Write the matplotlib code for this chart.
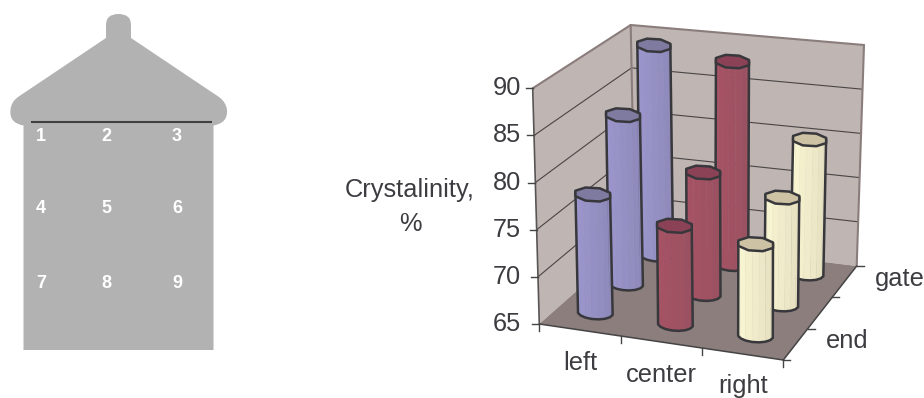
import numpy as np
import matplotlib
matplotlib.use("Agg")
import matplotlib.pyplot as plt
from matplotlib.patches import Polygon, PathPatch
from matplotlib.path import Path
from matplotlib.transforms import Transform

plt.rcParams["font.family"] = ["Liberation Sans", "DejaVu Sans"]

# Crystallinity by position on the plaque
columns = ["left", "center", "right"]
rows = ["end", "", "gate"]
left_values = [78.0, 84.0, 89.3]
center_values = [75.8, 78.7, 88.3]
right_values = [75.0, 77.0, 80.4]
value_ticks = [65, 70, 75, 80, 85, 90]
cell_numbers = [["1", "2", "3"], ["4", "5", "6"], ["7", "8", "9"]]

TEXT = "#3c3c41"
EDGE = "#37373c"
LABEL_SIZE = 18.3


class BoxProjection(Transform):
    """Map (column, row, value) through the eight corners of the chart box."""
    input_dims = 3
    output_dims = 2
    is_separable = False

    def __init__(self, floor, top, ncols, nrows, vmin, vmax):
        super().__init__()
        self.floor = np.array(floor, float)
        self.top = np.array(top, float)
        self.ncols, self.nrows = ncols, nrows
        self.vmin, self.vmax = vmin, vmax

    def transform_non_affine(self, pts):
        pts = np.asarray(pts, float).reshape(-1, 3)
        u = (pts[:, 0] / self.ncols)[:, None]
        v = (pts[:, 1] / self.nrows)[:, None]
        w = ((pts[:, 2] - self.vmin) / (self.vmax - self.vmin))[:, None]

        def quad(q):
            front = q[0] * (1 - u) + q[1] * u
            back = q[3] * (1 - u) + q[2] * u
            return front * (1 - v) + back * v
        return quad(self.floor) * (1 - w) + quad(self.top) * w


fig = plt.figure(figsize=(9.24, 3.98), dpi=100)
ax = fig.add_axes([0, 0, 1, 1])
ax.set_xlim(0, 924)
ax.set_ylim(398, 0)
ax.axis("off")

# Plaque outline with gate tab and rounded shoulders
GRAY = "#b2b2b2"
M, L, C, Z = Path.MOVETO, Path.LINETO, Path.CURVE3, Path.CLOSEPOLY
verts = [(23.5, 350), (23.5, 125.5), (23.5, 125.5), (9, 123), (10.5, 110), (11, 102), (18, 97),
         (106, 38), (106, 25), (106, 14), (118.5, 14), (131, 14), (131, 25), (131, 38),
         (219, 97), (226, 102), (227, 110), (228, 123), (213.5, 125.5), (213.5, 350), (23.5, 350)]
codes = [M, L, L, C, C, C, C, L, L, C, C, C, C, L, L, C, C, C, C, L, Z]
ax.add_patch(PathPatch(Path(verts, codes), fc=GRAY, ec="none"))
ax.plot([31, 212], [122, 122], color="#404040", lw=1.5, solid_capstyle="butt")
for labels, y in zip(cell_numbers, [136.5, 208.5, 283.5]):
    for label, x in zip(labels, [41, 106, 177]):
        ax.text(x, y, label, color="white", fontsize=13, fontweight="bold", ha="center", va="center")

# Chart box
vmin, vmax = value_ticks[0], value_ticks[-1]
ncols, nrows = len(columns), len(rows)
box = BoxProjection(floor=[(539.3, 324), (783.3, 360), (856.7, 266), (635, 239.3)],
                    top=[(532.7, 88.3), (784.0, 120), (864, 45), (630.7, 25)],
                    ncols=ncols, nrows=nrows, vmin=vmin, vmax=vmax)

WALL, FLOOR, RIM = "#bfb5b3", "#8b7e7c", "#8a7d7b"
ax.add_patch(Polygon(box.transform([(0, 0, vmin), (0, 0, vmax), (0, nrows, vmax), (0, nrows, vmin)]),
                     fc=WALL, ec="none", zorder=1))
ax.add_patch(Polygon(box.transform([(0, nrows, vmin), (0, nrows, vmax), (ncols, nrows, vmax), (ncols, nrows, vmin)]),
                     fc=WALL, ec="none", zorder=1))
ax.add_patch(Polygon(box.transform([(0, 0, vmin), (ncols, 0, vmin), (ncols, nrows, vmin), (0, nrows, vmin)]),
                     fc=FLOOR, ec="none", zorder=1))


def seg(a, b, **kw):
    p = box.transform([a, b])
    ax.plot(p[:, 0], p[:, 1], solid_capstyle="round", **kw)


for t in value_ticks[1:-1]:
    seg((0, 0, t), (0, nrows, t), color="#4a4545", lw=0.8, zorder=2)
    seg((0, nrows, t), (ncols, nrows, t), color="#4a4545", lw=0.8, zorder=2)
seg((0, 0, vmax), (0, nrows, vmax), color=RIM, lw=1.5, zorder=2)
seg((0, nrows, vmax), (ncols, nrows, vmax), color=RIM, lw=1.5, zorder=2)
seg((0, nrows, vmin), (0, nrows, vmax), color=RIM, lw=1.5, zorder=2)
seg((ncols, nrows, vmin), (ncols, nrows, vmax), color=RIM, lw=1.5, zorder=2)
seg((0, 0, vmin), (0, 0, vmax), color="#5a5555", lw=1.2, zorder=2)
seg((0, 0, vmin), (ncols, 0, vmin), color="#444", lw=1.1, zorder=2)
seg((ncols, 0, vmin), (ncols, nrows, vmin), color="#444", lw=1.1, zorder=2)

# Tick marks and tick labels
for t in value_ticks:
    x, y = box.transform([(0, 0, t)])[0]
    ax.plot([x - 7, x], [y, y], color="#444", lw=1, zorder=2)
    ax.text(521, y, str(t), color=TEXT, fontsize=LABEL_SIZE, ha="right", va="center")
for i in range(ncols + 1):
    x, y = box.transform([(i, 0, vmin)])[0]
    ax.plot([x, x], [y, y + 7], color="#444", lw=1, zorder=2)
for j in range(nrows + 1):
    x, y = box.transform([(ncols, j, vmin)])[0]
    ax.plot([x, x + 7], [y, y], color="#444", lw=1, zorder=2)
for i, name in enumerate(columns):
    x, y = box.transform([(i + 0.5, 0, vmin)])[0]
    ax.text(x, y + 32.5, name, color=TEXT, fontsize=LABEL_SIZE, ha="center", va="center")
for j, name in enumerate(rows):
    x, y = box.transform([(ncols, j + 0.5, vmin)])[0]
    ax.text(x + 30, y - 3, name, color=TEXT, fontsize=LABEL_SIZE, ha="left", va="center")
ax.text(410, 190, "Crystalinity,", color=TEXT, fontsize=LABEL_SIZE, ha="center", va="center")
ax.text(410, 224, "%", color=TEXT, fontsize=LABEL_SIZE, ha="center", va="center")


def mix(a, b, t):
    a, b = np.array(matplotlib.colors.to_rgb(a)), np.array(matplotlib.colors.to_rgb(b))
    return a * (1 - t) + b * t


def ring(center, rx, ry, tilt, sides):
    ang = np.deg2rad(180 / sides + 360 / sides * np.arange(sides))
    dx, dy = rx * np.cos(ang), -ry * np.sin(ang)
    return np.column_stack([center[0] + dx, center[1] + dy + tilt * dx])


def cylinder(i, j, value, light, dark, cap, z):
    base = box.transform([(i + 0.5, j + 0.5, vmin)])[0] - (0, 3)
    tip = box.transform([(i + 0.5, j + 0.5, value)])[0]
    scale = 1 - 0.07 * (j + 0.5) / nrows
    rx, ry, tilt = 19.0 * scale, 7.2 * scale, 0.06

    # Sixteen-sided shell; its lower half runs left to right across the visible side
    top, bot = ring(tip, rx * 0.94, ry * 0.94, tilt, 16), ring(base, rx * 0.94, ry * 0.94, tilt, 16)
    order = [7, 8, 9, 10, 11, 12, 13, 14, 15, 0]
    for k, (a, b) in enumerate(zip(order[:-1], order[1:])):
        t = k / (len(order) - 2)
        ax.add_patch(Polygon([top[a], top[b], bot[b], bot[a]], fc=mix(light, dark, t),
                             ec=mix(light, dark, t), lw=0.3, zorder=z))
    ax.add_patch(Polygon(np.vstack([top[7:8], bot[order], top[0:1]]), fc="none", ec=EDGE, lw=1.8,
                         joinstyle="round", zorder=z + 0.1))
    ax.add_patch(Polygon(ring(tip, rx, ry, tilt, 8), fc=cap, ec=EDGE, lw=1.8, joinstyle="round", zorder=z + 0.2))


styles = [("#9e9ad2", "#8a86b4", "#7f7aa0"),
          ("#aa5466", "#96505f", "#8c4256"),
          ("#fffcd8", "#e0dabb", "#cdc3a4")]
series = [left_values, center_values, right_values]
for j in reversed(range(nrows)):
    for i, (vals, st) in enumerate(zip(series, styles)):
        cylinder(i, j, vals[j], *st, z=3 + (nrows - j) + 0.3 * i)

fig.savefig("out.png", dpi=100)
